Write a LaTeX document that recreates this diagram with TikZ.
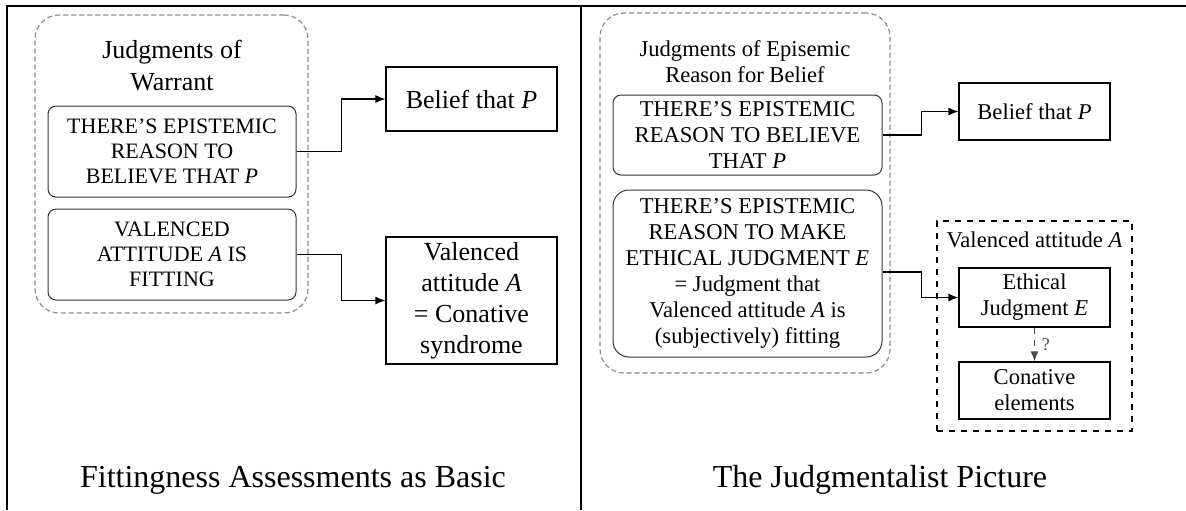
\documentclass[tikz,border=0pt]{standalone}
\usepackage{fontspec}
\setmainfont{Liberation Serif}
\usetikzlibrary{positioning, arrows.meta}

\begin{document}
\begin{tikzpicture}[x=0.5pt, y=-0.5pt,
    marco/.style={line width=1pt},
    grupo/.style={draw=black!45, dash pattern=on 2.5pt off 1.5pt, line width=0.6pt, rounded corners=12pt},
    juicio/.style={draw=black!80, line width=0.5pt, rounded corners=4pt, align=center, inner sep=0pt},
    caja/.style={draw, line width=0.6pt, align=center, inner sep=0pt},
    flecha/.style={-{Latex[length=5pt,width=4pt]}, line width=0.6pt},
    letraA/.style={font=\fontsize{11}{12.5}\selectfont},
    letraB/.style={font=\fontsize{13}{15.5}\selectfont},
    letraC/.style={font=\fontsize{11.3}{13}\selectfont},
    pie/.style={font=\fontsize{16}{19}\selectfont}]

    \useasboundingbox (0,0) rectangle (1186,510);

    % Marco
    \draw[marco] (7,510) -- (7,6) -- (1186,6);
    \draw[marco] (581,6) -- (581,510);

    % Panel izquierdo
    \node[grupo, minimum width=136.5pt, minimum height=149pt] (grpA) at (171.5,164) {};
    \node[letraB, align=center, font=\fontsize{13}{16}\selectfont] (titA) at (172,66) {Judgments of\\Warrant};
    \node[juicio, letraA, minimum width=124pt, minimum height=45.5pt] (razA) at (172,151.5)
        {THERE'S EPISTEMIC\\REASON TO\\BELIEVE THAT \textit{P}};
    \node[juicio, letraA, minimum width=124pt, minimum height=45.5pt] (ajusA) at (172,254.5)
        {VALENCED\\ATTITUDE \textit{A} IS\\FITTING};
    \node[caja, letraB, minimum width=85.5pt, minimum height=32pt] (creA) at (471.5,99)
        {Belief that \textit{P}};
    \node[caja, letraB, minimum width=85.5pt, minimum height=63.5pt] (actA) at (471.5,300.5)
        {Valenced\\attitude \textit{A}\\= Conative\\syndrome};

    \draw[flecha] (razA.east) -- ++(45,0) |- (creA.west);
    \draw[flecha] (ajusA.east) -- ++(45,0) |- (actA.west);

    \node[pie] (pieA) at (293,480) {Fittingness Assessments as Basic};

    % Panel derecho
    \node[grupo, minimum width=145pt, minimum height=180pt] (grpB) at (745,193) {};
    \node[letraC, align=center] (titB) at (745,62) {Judgments of Episemic\\Reason for Belief};
    \node[juicio, letraC, minimum width=134.5pt, minimum height=40pt] (razB) at (747.5,135)
        {THERE'S EPISTEMIC\\REASON TO BELIEVE\\THAT \textit{P}};
    \node[juicio, letraC, rounded corners=8pt, minimum width=134.5pt, minimum height=83.5pt] (etiB) at (747.5,273.5)
        {THERE'S EPISTEMIC\\REASON TO MAKE\\ETHICAL JUDGMENT \textit{E}\\= Judgment that\\Valenced attitude \textit{A} is\\(subjectively) fitting};
    \node[caja, letraC, minimum width=75.5pt, minimum height=28.5pt] (creB) at (1034.5,111.5)
        {Belief that \textit{P}};
    \node[draw, dashed, line width=0.6pt, minimum width=97.5pt, minimum height=105pt] (actB) at (1034.5,326) {};
    \node[letraC] (titActB) at (1034.5,240) {Valenced attitude \textit{A}};
    \node[caja, letraC, minimum width=75.5pt, minimum height=29.5pt] (jueB) at (1034.5,297.5)
        {Ethical\\Judgment \textit{E}};
    \node[caja, letraC, minimum width=75.5pt, minimum height=28.5pt] (conB) at (1034.5,390.5)
        {Conative\\elements};

    \draw[flecha] (razB.east) -- ++(39,0) |- (creB.west);
    \draw[flecha] (etiB.east |- 0,272) -- ++(39,0) |- (jueB.west);
    \draw[flecha, dashed, draw=black!70] (jueB.south) -- node[right, font=\fontsize{9}{10}\selectfont, text=black!70] {?} (conB.north);

    \node[pie] (pieB) at (880,480) {The Judgmentalist Picture};
\end{tikzpicture}
\end{document}
